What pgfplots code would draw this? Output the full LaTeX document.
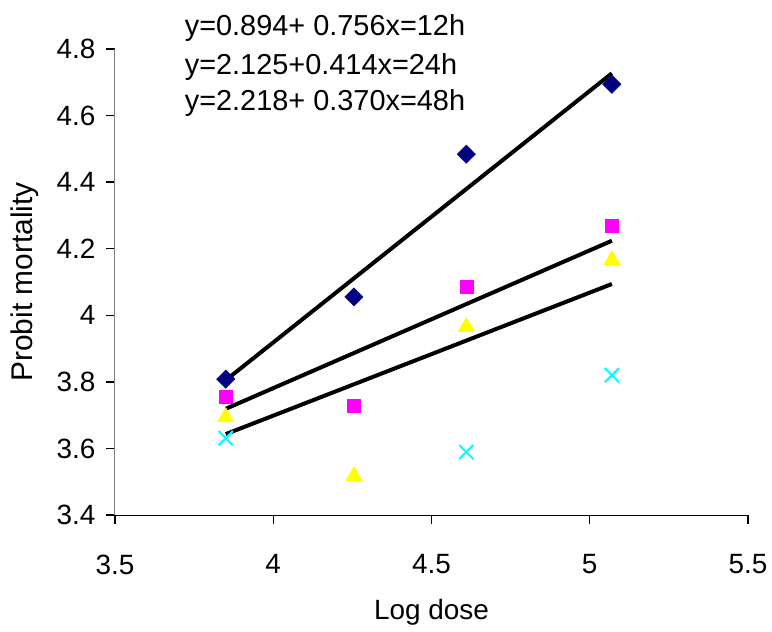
\documentclass[border=0pt]{standalone}
\usepackage{pgfplots}
\pgfplotsset{compat=1.18}
\usepackage{fontspec}
\setmainfont{Liberation Sans}
\definecolor{navyc}{RGB}{0,0,128}
\definecolor{magc}{RGB}{255,0,255}
\definecolor{yelc}{RGB}{255,255,0}
\definecolor{cyac}{RGB}{0,255,255}
\begin{document}
\begin{tikzpicture}
\begin{axis}[
  at={(0,0)}, anchor=south west,
  scale only axis, width=633bp, height=466bp,
  xmin=3.5, xmax=5.5, ymin=3.4, ymax=4.8,
  xtick={3.5,4,4.5,5,5.5}, ytick={3.4,3.6,3.8,4,4.2,4.4,4.6,4.8},
  axis lines=left,
  axis line style={-},
  x axis line style={black, line width=1bp},
  y axis line style={gray, line width=1bp},
  tickwidth=9bp,
  tick style={line width=1.4bp, draw=black},
  xtick align=outside, ytick align=outside,
  tick label style={font=\fontsize{28}{32}\selectfont},
  /pgf/number format/assume math mode=true,
  xticklabel style={yshift=-27bp},
  yticklabel style={xshift=-7bp},
  xlabel={Log dose}, ylabel={Probit mortality},
  every axis x label/.style={at={(axis description cs:0.5,0)}, anchor=center, yshift=-97bp, font=\fontsize{28}{32}\selectfont},
  every axis y label/.style={at={(axis description cs:-0.143,0.5)}, anchor=center, rotate=90, font=\fontsize{30}{34}\selectfont},
  clip=false,
]
% regression lines
\addplot[black, line width=4bp] coordinates {(3.85,3.805) (5.07,4.727)};
\addplot[black, line width=4bp] coordinates {(3.85,3.719) (5.07,4.224)};
\addplot[black, line width=4bp] coordinates {(3.85,3.643) (5.07,4.094)};
% 12h
\addplot[only marks, mark=square*, mark size=6.5bp, color=navyc, mark options={rotate=45}] coordinates {(3.85,3.808) (4.255,4.055) (4.61,4.484) (5.07,4.694)};
% 24h
\addplot[only marks, mark=square*, mark size=6.5bp, color=magc] coordinates {(3.85,3.754) (4.255,3.727) (4.61,4.085) (5.07,4.268)};
% 48h
\addplot[only marks, mark=triangle*, mark size=9.5bp, color=yelc] coordinates {(3.85,3.694) (4.255,3.517) (4.61,3.965) (5.07,4.166)};
% cross
\addplot[only marks, mark=x, mark size=10bp, color=cyac, mark options={line width=2bp}] coordinates {(3.85,3.631) (4.61,3.589) (5.07,3.82)};
\node[anchor=west, font=\fontsize{29}{33}\selectfont, inner sep=0pt] at (axis description cs:0.11,1.045) {y=0.894+ 0.756x=12h};
\node[anchor=west, font=\fontsize{29}{33}\selectfont, inner sep=0pt] at (axis description cs:0.11,0.962) {y=2.125+0.414x=24h};
\node[anchor=west, font=\fontsize{29}{33}\selectfont, inner sep=0pt] at (axis description cs:0.11,0.884) {y=2.218+ 0.370x=48h};
\end{axis}
\pgfresetboundingbox
\path (-115bp,-117bp) rectangle (657bp,515bp);
\end{tikzpicture}
\end{document}
